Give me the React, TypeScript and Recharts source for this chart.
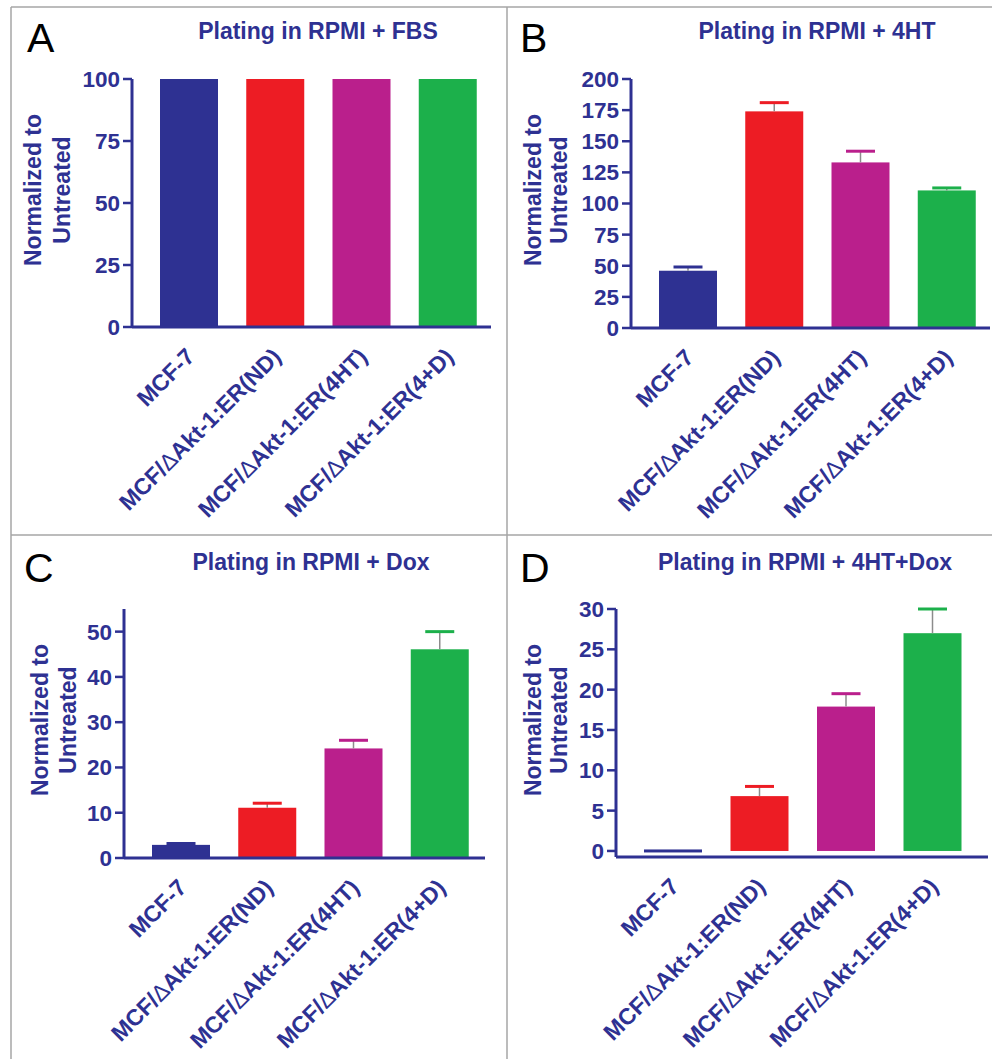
import React from 'react';
import { BarChart, Bar, XAxis, YAxis } from 'recharts';

// Four cell lines, same order in every panel
const categories = ['MCF-7', 'MCF/ΔAkt-1:ER(ND)', 'MCF/ΔAkt-1:ER(4HT)', 'MCF/ΔAkt-1:ER(4+D)'];
const barColors = ['#2E3192', '#ED1C24', '#BA1F8C', '#1CB04B'];

// A: RPMI + FBS
const fbsMeans = [100, 100, 100, 100];
const fbsErrors = [0, 0, 0, 0];
const fbsTicks = [0, 25, 50, 75, 100];

// B: RPMI + 4HT
const htMeans = [46, 174, 133, 110.5];
const htErrors = [3, 7, 9, 2];
const htTicks = [0, 25, 50, 75, 100, 125, 150, 175, 200];

// C: RPMI + Dox
const doxMeans = [2.9, 11.1, 24.2, 46.1];
const doxErrors = [0.3, 1.0, 1.8, 3.9];
const doxTicks = [0, 10, 20, 30, 40, 50];

// D: RPMI + 4HT+Dox
const htDoxMeans = [0.05, 6.8, 17.9, 27.0];
const htDoxErrors = [0, 1.2, 1.6, 3.0];
const htDoxTicks = [0, 5, 10, 15, 20, 25, 30];

const INK = '#2E3192';
const FONT = 'Arial, "Liberation Sans", Helvetica, sans-serif';
const FRAME = '#a6a6a6';

const buildRows = (means: number[], errors: number[]) =>
  categories.map((name, i) => ({ name, mean: means[i], err: errors[i] }));

const colorOf = (name: string) => barColors[categories.indexOf(name)];

const MeanBar = (props: any) => {
  const { x, y, width, height, payload } = props;
  // near-zero bars still show as a thin line, like Prism does
  if (height < 3) {
    return <rect x={x} y={y + height - 1.5} width={width} height={3} fill={colorOf(payload.name)} />;
  }
  return <rect x={x} y={y} width={width} height={height} fill={colorOf(payload.name)} />;
};

const ErrorCap = (props: any) => {
  const { x, y, width, height, payload } = props;
  if (!height || height < 0.5) return null;
  const cx = x + width / 2;
  const half = width / 4;
  return (
    <g>
      <line x1={cx} x2={cx} y1={y + height} y2={y} stroke="#8c8c8c" strokeWidth={1.5} />
      <line x1={cx - half} x2={cx + half} y1={y} y2={y} stroke={colorOf(payload.name)} strokeWidth={3} />
    </g>
  );
};

const CategoryTick = (props: any) => {
  const { x, y, payload } = props;
  const label: string = payload.value;
  const parts = label.split('Δ');
  return (
    <text
      transform={`translate(${x + 7},${y + 31}) rotate(-45)`}
      textAnchor="end"
      fill={INK}
      fontSize={23}
      fontWeight="bold"
      fontFamily={FONT}
    >
      {parts.length > 1 ? (
        <>
          {parts[0]}
          <tspan fontWeight="normal">Δ</tspan>
          {parts[1]}
        </>
      ) : (
        label
      )}
    </text>
  );
};

interface PanelProps {
  left: number;
  top: number;
  height: number;
  axisWidth: number;
  marginTop: number;
  marginRight: number;
  xAxisHeight: number;
  padRight: number;
  domain: [number, number];
  ticks: number[];
  rows: { name: string; mean: number; err: number }[];
}

const Panel: React.FC<PanelProps> = (p) => (
  <div style={{ position: 'absolute', left: p.left, top: p.top }}>
    <BarChart
      width={496}
      height={p.height}
      data={p.rows}
      margin={{ top: p.marginTop, right: p.marginRight, bottom: 0, left: 0 }}
    >
      <XAxis
        dataKey="name"
        interval={0}
        height={p.xAxisHeight}
        padding={{ left: 14, right: p.padRight }}
        axisLine={{ stroke: INK, strokeWidth: 3 }}
        tickLine={false}
        tickSize={0}
        tickMargin={0}
        tick={<CategoryTick />}
      />
      <YAxis
        type="number"
        width={p.axisWidth}
        domain={p.domain}
        ticks={p.ticks}
        interval={0}
        tickSize={9}
        tickMargin={3}
        axisLine={{ stroke: INK, strokeWidth: 3 }}
        tickLine={{ stroke: INK, strokeWidth: 2.5 }}
        tick={{ fill: INK, fontSize: 22.5, fontWeight: 'bold', fontFamily: FONT }}
      />
      <Bar dataKey="mean" stackId="s" barSize={58} shape={<MeanBar />} isAnimationActive={false} />
      <Bar dataKey="err" stackId="s" barSize={58} shape={<ErrorCap />} isAnimationActive={false} />
    </BarChart>
  </div>
);

const titleStyle = { fill: INK, fontSize: 23, fontWeight: 'bold' as const, fontFamily: FONT };
const letterStyle = { fill: '#000', fontSize: 41, fontFamily: FONT };

const YLabel = ({ x1, x2, cy }: { x1: number; x2: number; cy: number }) => (
  <g style={titleStyle}>
    <text x={x1} y={cy} transform={`rotate(-90 ${x1} ${cy})`} textAnchor="middle" dominantBaseline="central">
      Normalized to
    </text>
    <text x={x2} y={cy} transform={`rotate(-90 ${x2} ${cy})`} textAnchor="middle" dominantBaseline="central">
      Untreated
    </text>
  </g>
);

export default function App() {
  return (
    <div style={{ position: 'absolute', left: 0, top: 0, width: 992, height: 1059, background: '#fff', overflow: 'hidden' }}>
      <Panel left={0} top={0} height={535} axisWidth={132} marginTop={79} marginRight={5} xAxisHeight={208}
        padRight={0} domain={[0, 100]} ticks={fbsTicks} rows={buildRows(fbsMeans, fbsErrors)} />
      <Panel left={496} top={0} height={535} axisWidth={135} marginTop={79} marginRight={2} xAxisHeight={207}
        padRight={0} domain={[0, 200]} ticks={htTicks} rows={buildRows(htMeans, htErrors)} />
      <Panel left={0} top={535} height={524} axisWidth={124} marginTop={74} marginRight={11} xAxisHeight={201}
        padRight={2} domain={[0, 55]} ticks={doxTicks} rows={buildRows(doxMeans, doxErrors)} />
      <Panel left={496} top={535} height={524} axisWidth={120} marginTop={74} marginRight={4} xAxisHeight={202}
        padRight={12} domain={[-0.75, 30]} ticks={htDoxTicks} rows={buildRows(htDoxMeans, htDoxErrors)} />

      <svg width={992} height={1059} style={{ position: 'absolute', left: 0, top: 0, pointerEvents: 'none' }}>
        {/* panel frame */}
        <line x1={11} x2={992} y1={7} y2={7} stroke={FRAME} strokeWidth={1.5} />
        <line x1={11} x2={11} y1={7} y2={1059} stroke={FRAME} strokeWidth={1.5} />
        <line x1={507} x2={507} y1={7} y2={1059} stroke={FRAME} strokeWidth={1.5} />
        <line x1={11} x2={992} y1={535} y2={535} stroke={FRAME} strokeWidth={1.5} />

        <text x={27} y={52} style={letterStyle}>A</text>
        <text x={520} y={52} style={letterStyle}>B</text>
        <text x={24} y={582} style={letterStyle}>C</text>
        <text x={520} y={582} style={letterStyle}>D</text>

        <text x={318} y={39} textAnchor="middle" style={titleStyle}>Plating in RPMI + FBS</text>
        <text x={817} y={39} textAnchor="middle" style={titleStyle}>Plating in RPMI + 4HT</text>
        <text x={311} y={570} textAnchor="middle" style={titleStyle}>Plating in RPMI + Dox</text>
        <text x={805} y={570} textAnchor="middle" style={titleStyle}>Plating in RPMI + 4HT+Dox</text>

        <YLabel x1={33} x2={62} cy={190} />
        <YLabel x1={533} x2={559} cy={190} />
        <YLabel x1={40} x2={68} cy={720} />
        <YLabel x1={533} x2={559} cy={720} />
      </svg>
    </div>
  );
}
